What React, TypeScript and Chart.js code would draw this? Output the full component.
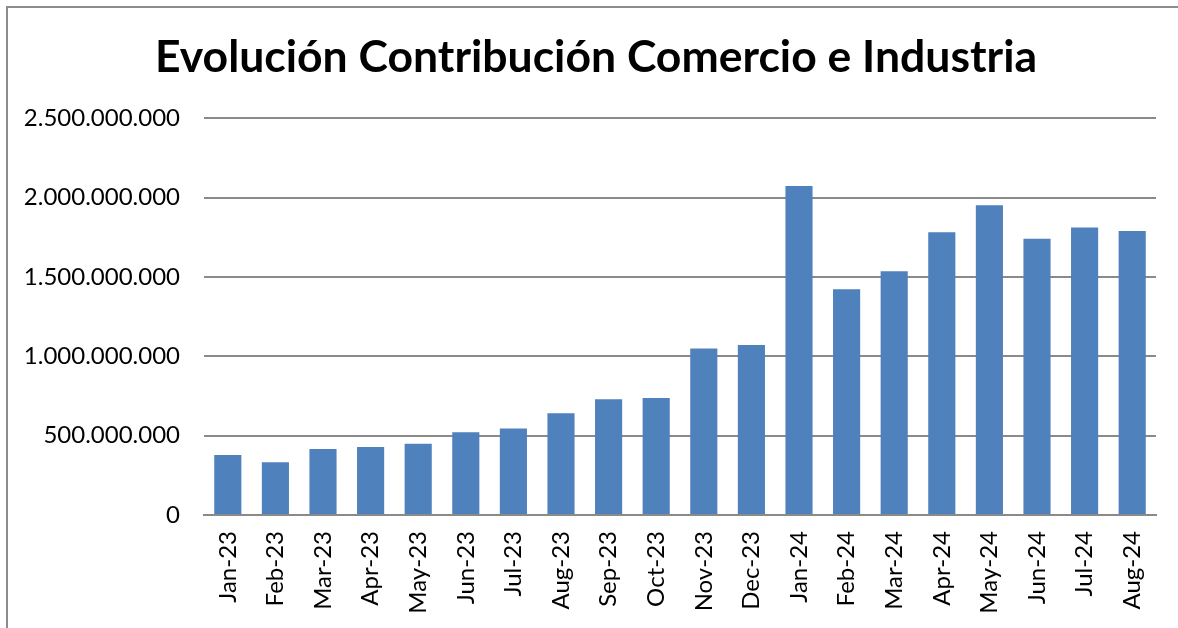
import React, { useEffect, useRef } from "react";
import { Chart, registerables } from "chart.js";

Chart.register(...registerables);

const TITLE = "Evolución Contribución Comercio e Industria";
const categories = [
  "Jan-23", "Feb-23", "Mar-23", "Apr-23", "May-23", "Jun-23", "Jul-23", "Aug-23",
  "Sep-23", "Oct-23", "Nov-23", "Dec-23", "Jan-24", "Feb-24", "Mar-24", "Apr-24",
  "May-24", "Jun-24", "Jul-24", "Aug-24",
];
const contribucion = [
  378000000, 332000000, 416000000, 428000000, 449000000, 521000000, 546000000, 642000000,
  730000000, 737000000, 1050000000, 1071000000, 2074000000, 1423000000, 1536000000, 1782000000,
  1952000000, 1742000000, 1812000000, 1790000000,
];
const yMin = 0;
const yMax = 2500000000;
const yStep = 500000000;

const fmt = (v: number) => String(Math.round(v)).replace(/\B(?=(\d{3})+(?!\d))/g, ".");

// The original chart frame is wider than the visible crop, so its title sits
// right of the visible centre: widen the title block's left edge.
const titleShift = {
  id: "titleShift",
  afterLayout(chart: any) {
    const t = chart.titleBlock;
    if (t) t.left = 36;
  },
};

export default function App() {
  const ref = useRef<HTMLCanvasElement | null>(null);
  useEffect(() => {
    if (!ref.current) return;
    const font = "Lato, 'Open Sans', sans-serif";
    const chart = new Chart(ref.current, {
      type: "bar",
      data: {
        labels: categories,
        datasets: [
          {
            data: contribucion,
            backgroundColor: "#4F81BD",
            borderWidth: 0,
            barPercentage: 0.57,
            categoryPercentage: 1,
          },
        ],
      },
      options: {
        responsive: false,
        animation: false,
        layout: { padding: { left: 0, right: 22, top: 0, bottom: 0 } },
        plugins: {
          legend: { display: false },
          tooltip: { enabled: false },
          title: {
            display: true,
            text: TITLE,
            color: "#000000",
            font: { family: font, size: 44.5, weight: "bold", lineHeight: 1.2 },
            padding: { top: 31, bottom: 34 },
          },
        },
        scales: {
          x: {
            grid: { display: false, drawTicks: false },
            border: { display: true, color: "#8a8a8a", width: 2 },
            ticks: {
              color: "#000000",
              font: { family: font, size: 24 },
              minRotation: 90,
              maxRotation: 90,
              autoSkip: false,
              padding: 16,
            },
            afterFit: (s: any) => {
              s.height = 113;
            },
          },
          y: {
            min: yMin,
            max: yMax,
            grid: { color: "#8a8a8a", lineWidth: 2, drawTicks: false },
            border: { display: false },
            ticks: {
              stepSize: yStep,
              color: "#000000",
              font: { family: font, size: 24 },
              padding: 24,
              callback: (v: any) => fmt(Number(v)),
            },
            afterFit: (s: any) => {
              s.width = 204;
            },
          },
        },
      },
      plugins: [titleShift],
    } as any);
    return () => chart.destroy();
  }, []);
  return (
    <div style={{ position: "fixed", left: 0, top: 0, width: 1178, height: 628, background: "#ffffff", overflow: "hidden" }}>
      <canvas ref={ref} width={1178} height={628} style={{ position: "absolute", left: 0, top: 0, width: 1178, height: 628 }} />
      <div style={{ position: "absolute", left: 6, top: 6, width: 1300, height: 800, border: "2px solid #8c8c8c", pointerEvents: "none" }} />
    </div>
  );
}
